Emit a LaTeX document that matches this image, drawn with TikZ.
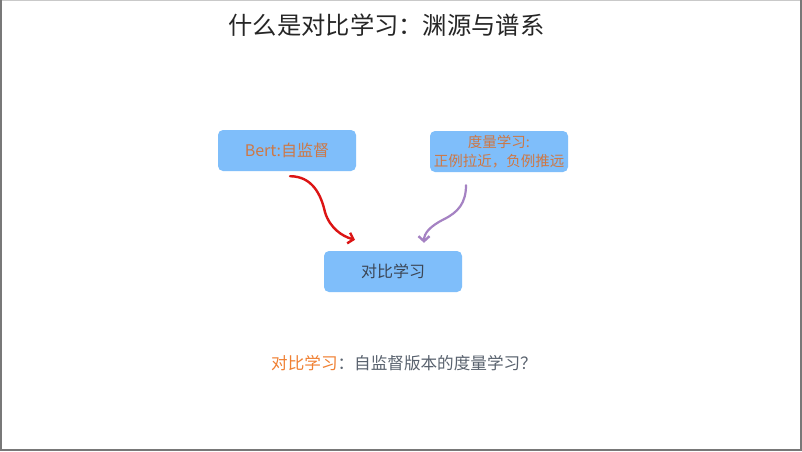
\documentclass[tikz,border=0pt]{standalone}
\usepackage{fontspec}
\setmainfont{Noto Sans CJK SC}
\usetikzlibrary{arrows.meta,calc}
\definecolor{boxblue}{RGB}{127,190,250}
\definecolor{txtorange}{RGB}{205,120,70}
\definecolor{brightorange}{RGB}{240,128,50}
\definecolor{darktxt}{RGB}{60,70,85}
\definecolor{arrred}{RGB}{220,20,20}
\definecolor{arrpurple}{RGB}{165,130,195}
\definecolor{frame}{RGB}{120,120,120}
\tikzset{
  box/.style={fill=boxblue, rounded corners=5pt, minimum width=138pt, minimum height=41pt, inner sep=0pt, align=center},
  curvearrow/.style={line width=2.4pt, line cap=round, -{Straight Barb[length=5pt,width=11pt,line width=2.4pt]}}
}
\begin{document}
\begin{tikzpicture}[x=1pt,y=-1pt]
\useasboundingbox (0,0) rectangle (802,451);
\fill[white] (0,0) rectangle (802,451);
% slide frame
\draw[frame!40, line width=1pt] (1,0.5) -- (801,0.5);
\draw[frame, line width=1.6pt] (1,0) -- (1,450) -- (801,450) -- (801,0);
% title
\node[font=\fontsize{24.3}{27}\selectfont, text=black!85] (title) at (386.5,25) {什么是对比学习：渊源与谱系};
% boxes
\node[box, font=\fontsize{16}{18}\selectfont, text=txtorange] (bert) at (287,150.5) {Bert:自监督};
\node[box, font=\fontsize{14.5}{19}\selectfont, text=txtorange] (metric) at (499,151.5) {度量学习:\\正例拉近，负例推远};
\node[box, font=\fontsize{16}{18}\selectfont, text=darktxt] (cl) at (393,271.5) {对比学习};
% arrows
\coordinate (r0) at ($(bert.south)+(3,5)$);
\coordinate (r1) at ($(cl.north)+(-38,-11)$);
\draw[curvearrow, arrred] (r0) .. controls ($(r0)+(22,0)$) and ($(r0)+(31,18)$) .. ($(r0)+(35,36)$)
  .. controls ($(r0)+(40,52)$) and ($(r0)+(52,60)$) .. (r1);
\coordinate (p0) at ($(metric.south)+(-33,13)$);
\coordinate (p1) at ($(cl.north)+(31,-8)$);
\draw[curvearrow, arrpurple, line width=2.2pt] (p0) .. controls ($(p0)+(0,18)$) and ($(p0)+(-8,27)$) .. ($(p0)+(-22,34)$)
  .. controls ($(p0)+(-36,41)$) and ($(p0)+(-42,48)$) .. (p1);
% bottom text
\node[font=\fontsize{16.6}{19}\selectfont, text=darktxt!85] (sub) at (404,363) {\textcolor{brightorange}{对比学习}：自监督版本的度量学习？};
\end{tikzpicture}
\end{document}
